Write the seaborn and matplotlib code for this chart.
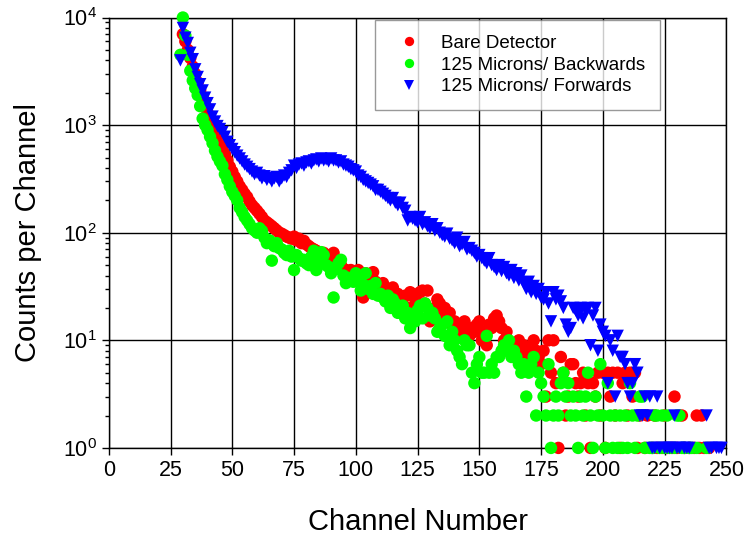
import numpy as np
import pandas as pd
import seaborn as sns
import matplotlib.pyplot as plt
from matplotlib.ticker import LogLocator, MultipleLocator

nan = np.nan

# counts per channel (nan = no counts)
bare_start = 30
bare_counts = [
    7000, 6000, 5000, 4200, 3500, 3000, 2500, 2100, 1800, 1550,
    1300, 1150, 1000, 900, 800, 720, 620, 540, 470, 410,
    370, 330, 300, 270, 250, 230, 215, 195, 180, 170,
    160, 150, 140, 130, 125, 120, 115, 110, 105, 100,
    98, 95, 92, 90, 88, 92, 85, 88, 80, 84,
    78, 75, 72, 70, 68, 66, 64, 65, 60, 55,
    62, 65, 52, 48, 50, 46, 45, 44, 45, 42,
    40, 45, 38, 25, 42, 36, 40, 43, 35, 30,
    32, 34, 28, 30, 29, 31, 25, 27, 22, 24,
    26, 20, 28, 27, 24, 20, 28, 29, 22, 29,
    15, 18, 20, 24, 22, 18, 20, 16, 18, 14,
    15, 13, 12, 14, 15, 12, 11, 13, 12, 14,
    15, 10, 12, 9, 14, 13, 16, 17, 15, 13,
    10, 12, 9, 8, 9, 7, 10, 8, 9, 7,
    8, 6, 10, 8, 7, 6, 8, 3, 10, 5,
    10, 4, 1, 7, 5, 2, 3, 6, 6, 4,
    3, 4, 5, 2, 4, 1, 4, 3, 5, 2,
    5, 1, 5, 3, 5, 2, 5, 1, 4, 5,
    2, 5, 3, 5, 1, 2, nan, 1, 2, nan,
    1, 2, 1, nan, 1, 2, 1, nan, 1, 3,
    1, nan, 2, 1, nan, 1, nan, 1, 2, 1,
    2, 1, nan, 1,
]

back_start = 29
back_counts = [
    4500, 10000, 6800, 4500, 3200, 2600, 2200, 1900, 1500, 1150,
    1000, 900, 780, 680, 580, 510, 460, 420, 350, 310,
    270, 240, 220, 200, 170, 155, 140, 130, 120, 110,
    105, 100, 110, 104, 90, 80, 85, 55, 75, 80,
    72, 70, 65, 62, 68, 60, 45, 62, 58, 55,
    56, 52, 50, 60, 68, 45, 55, 66, 62, 50,
    48, 42, 25, 46, 52, 56, 40, 34, 38, 36,
    35, 42, 38, 29, 33, 42, 30, 32, 27, 34,
    26, 27, 25, 23, 26, 20, 24, 22, 18, 19,
    21, 16, 18, 13, 17, 15, 19, 21, 16, 22,
    20, 17, 18, 16, 12, 13, 14, 11, 15, 9,
    12, 10, 8, 7, 6, 10, 9, 9, 5, 4,
    6, 7, 5, 5, 11, 5, 6, 5, 7, 7,
    8, 9, 8, 10, 7, 8, 7, 6, 5, 6,
    3, 5, 6, 7, 2, 5, 4, 3, 2, 6,
    1, 2, 3, 2, 4, 5, 3, 4, 2, 3,
    2, 1, 3, 2, 3, 5, 2, 1, 3, 2,
    6, 2, 1, 4, 2, 1, 2, 1, 2, 1,
    2, 1, 4, 2, 1, 2, 3, 3, 1, nan,
    1, 1, 2, 2, 1, 2, 1, 2, 1, nan,
    1, 2, 2, 1, 1, nan, 1, 1, nan, 1,
    nan, nan, nan, 1,
]

fwd_start = 29
fwd_counts = [
    4000, 8000, 6500, 5800, 4700, 4100, 3300, 2800, 2400, 2100,
    1800, 1600, 1400, 1200, 1080, 980, 920, 860, 780, 700,
    650, 600, 560, 520, 490, 460, 430, 410, 390, 370,
    350, 360, 340, 320, 335, 310, 325, 300, 320, 330,
    300, 320, 340, 330, 360, 380, 420, 400, 430, 440,
    420, 450, 460, 440, 470, 480, 460, 490, 470, 480,
    460, 490, 470, 470, 450, 460, 430, 420, 410, 390,
    380, 370, 340, 330, 310, 300, 290, 280, 270, 250,
    250, 240, 230, 220, 210, 200, 210, 190, 180, 190,
    170, 160, 130, 140, 135, 130, 125, 140, 120, 125,
    115, 110, 120, 105, 110, 100, 95, 92, 98, 88,
    85, 80, 90, 75, 78, 82, 70, 72, 68, 65,
    60, 62, 58, 55, 52, 58, 50, 48, 45, 50,
    44, 48, 42, 40, 45, 38, 42, 36, 40, 34,
    30, 35, 28, 32, 27, 30, 25, 24, 28, 22,
    15, 28, 24, 26, 23, 20, 14, 12, 13, 20,
    19, 17, 20, 16, 19, 20, 9, 17, 20, 8,
    14, 12, 11, 4, 10, 8, 3, 11, 7, 7,
    6, 4, 3, 4, 6, 5, 2, 2, 3, 2,
    3, 1, 1, 3, 1, nan, 1, 1, 1, 1,
    2, 1, 1, nan, 1, 1, 1, nan, nan, nan,
    nan, nan, nan, 2, 1, 1, nan, 1, 1, 1,
]

labels = ["Bare Detector", "125 Microns/ Backwards", "125 Microns/ Forwards"]
colors = ["#ff0000", "#00ff00", "#0000ff"]


def to_frame(start, counts, name):
    return pd.DataFrame({"channel": np.arange(start, start + len(counts)),
                         "counts": counts, "series": name})


df = pd.concat([to_frame(bare_start, bare_counts, labels[0]),
                to_frame(back_start, back_counts, labels[1]),
                to_frame(fwd_start, fwd_counts, labels[2])], ignore_index=True)
df = df.dropna()

sns.set_style("white")
plt.rcParams["font.family"] = ["Liberation Sans", "DejaVu Sans"]
plt.rcParams["text.color"] = "black"
plt.rcParams["axes.labelcolor"] = "black"
plt.rcParams["xtick.color"] = "black"
plt.rcParams["ytick.color"] = "black"

fig = plt.figure(figsize=(7.45, 5.39), dpi=100)
ax = fig.add_axes([0.146, 0.169, 0.829, 0.7985])

sns.scatterplot(data=df, x="channel", y="counts", hue="series", style="series",
                hue_order=labels, style_order=labels,
                palette=dict(zip(labels, colors)),
                markers=dict(zip(labels, ["o", "o", "v"])),
                s=80, linewidth=0, alpha=1, clip_on=False, ax=ax, zorder=3)

ax.set_yscale("log")
ax.set_xlim(0, 250)
ax.set_ylim(1, 1e4)
ax.xaxis.set_major_locator(MultipleLocator(25))
ax.yaxis.set_major_locator(LogLocator(base=10, numticks=10))
ax.yaxis.set_minor_locator(LogLocator(base=10, subs=np.arange(2, 10), numticks=20))

ax.grid(True, which="major", color="black", linewidth=1)
for sp in ax.spines.values():
    sp.set_color("black")
    sp.set_linewidth(1)
ax.tick_params(axis="both", which="major", direction="out", length=5, width=1,
               labelsize=15.5, color="black", labelcolor="black",
               bottom=True, left=True)
ax.tick_params(axis="y", which="minor", direction="out", length=3, width=1,
               color="black", left=True)

ax.set_xlabel("Channel Number", fontsize=21, labelpad=20)
ax.set_ylabel("Counts per Channel", fontsize=21, labelpad=15)

handles, names = ax.get_legend_handles_labels()
ax.legend(handles, names, loc="upper left", bbox_to_anchor=(0.431, 0.995),
          frameon=True, fancybox=False, edgecolor="#808080", fontsize=13.5,
          markerscale=0.75, handletextpad=0.7, borderpad=0.8, labelspacing=0.25,
          borderaxespad=0)

fig.savefig("out.png", dpi=100)
